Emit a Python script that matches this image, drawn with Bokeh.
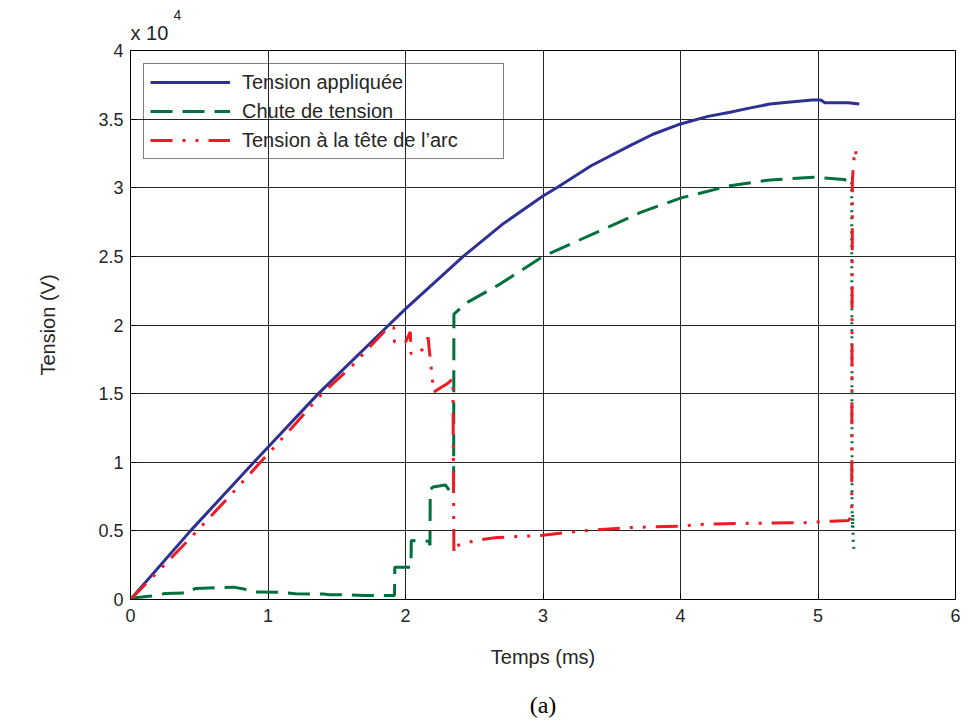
from bokeh.plotting import figure
from bokeh.models import Range1d, FixedTicker, Title, Legend, LegendItem, LinearAxis
from bokeh.embed import file_html
from bokeh.resources import INLINE

# ---- data (time in ms, voltage in V) ----
t_applied = [0, 0.436, 0.897, 1.366, 1.879, 2.0, 2.2, 2.42, 2.7, 3.0, 3.1, 3.35, 3.64, 3.8,
             4.0, 4.2, 4.36, 4.5, 4.65, 4.8, 4.96, 5.02, 5.05, 5.22, 5.3]
v_applied = [0, 5000, 10000, 15000, 20000, 21170, 23000, 25000, 27300, 29400, 30000, 31600,
             33100, 33900, 34650, 35200, 35500, 35800, 36100, 36250, 36400, 36400, 36200,
             36200, 36100]

t_drop = [0, 0.05, 0.15, 0.25, 0.42, 0.47, 0.63, 0.75, 0.86, 0.9, 1.1, 1.2, 1.4, 1.45, 1.6,
          1.7, 1.92, 1.922, 2.04, 2.042, 2.17, 2.178, 2.18, 2.2, 2.29, 2.33, 2.35, 2.352,
          2.45, 2.69, 3.0, 3.39, 3.71, 4.0, 4.36, 4.65, 4.97, 5.19, 5.245]
v_drop = [0, 150, 250, 430, 480, 800, 860, 900, 700, 550, 520, 420, 400, 350, 340,
          300, 300, 2350, 2350, 4300, 4250, 3950, 8000, 8200, 8350, 7800, 7800, 20800,
          21650, 23000, 25000, 26750, 28200, 29250, 30150, 30570, 30760, 30600, 30400]

t_drop_end = [5.245, 5.248, 5.25, 5.253, 5.256, 5.26, 5.265]
v_drop_end = [30400, 6500, 5200, 6200, 4300, 3800, 3400]

t_arc = [0, 0.25, 0.485, 0.75, 0.945, 1.2, 1.393, 1.6, 1.75, 1.88, 1.915, 1.92, 2.0, 2.035,
         2.04, 2.11, 2.165, 2.17, 2.19, 2.205, 2.25, 2.3, 2.345, 2.352, 2.36, 2.42, 2.5,
         2.65, 3.0, 3.15, 3.35, 3.65, 4.0, 4.2, 4.5, 4.9, 5.1, 5.22, 5.24, 5.245, 5.25,
         5.26, 5.272, 5.28]
v_arc = [0, 2550, 5000, 7850, 10000, 12800, 15000, 16900, 18500, 19900, 19800, 18750, 18750,
         19500, 17900, 18000, 19100, 18500, 16600, 15100, 15400, 15700, 16100, 3450, 3930,
         4000, 4300, 4500, 4680, 4850, 5050, 5250, 5350, 5500, 5550, 5600, 5700, 5750, 6000,
         6500, 30500, 32000, 32800, 32200]

x_ticks = [0, 1, 2, 3, 4, 5, 6]
y_ticks = [0, 5000, 10000, 15000, 20000, 25000, 30000, 35000, 40000]
y_tick_labels = ["0", "0.5", "1", "1.5", "2", "2.5", "3", "3.5", "4"]

names = ["Tension appliquée", "Chute de tension", "Tension à la tête de l\u2019arc"]

BLUE = "#2e3192"
GREEN = "#00703c"
RED = "#ed1c24"
TXT = "#262626"
FONT = "Liberation Sans"

p = figure(width=961, height=724, output_backend="svg", toolbar_location=None,
           x_range=Range1d(0, 6), y_range=Range1d(0, 40000), title="4")
p.min_border_left = 130
p.min_border_right = 6
p.min_border_top = 50
p.min_border_bottom = 125
p.background_fill_color = "white"
p.border_fill_color = "white"
p.outline_line_color = "black"
p.outline_line_width = 1

# outer title: exponent
p.title.align = "left"
p.title.offset = 43
p.title.text_font = FONT
p.title.text_font_size = "14px"
p.title.text_font_style = "normal"
p.title.text_color = TXT
p.title.standoff = -15

# inner title: multiplier
p.add_layout(Title(text="x 10", align="left", text_font=FONT, text_font_size="20px",
                   text_font_style="normal", text_color=TXT, standoff=14), "above")

for ax in (p.xaxis[0], p.yaxis[0]):
    ax.major_label_text_font = FONT
    ax.major_label_text_font_size = "18px"
    ax.major_label_text_color = TXT
    ax.axis_label_text_font = FONT
    ax.axis_label_text_font_size = "20px"
    ax.axis_label_text_font_style = "normal"
    ax.axis_label_text_color = TXT
    ax.major_tick_in = 6
    ax.major_tick_out = 0
    ax.minor_tick_line_color = None
    ax.axis_line_color = "black"
    ax.major_tick_line_color = "black"

p.xaxis.ticker = FixedTicker(ticks=x_ticks)
p.yaxis.ticker = FixedTicker(ticks=y_ticks)
p.yaxis.major_label_overrides = {k: v for k, v in zip(y_ticks, y_tick_labels)}
p.xaxis.axis_label = "Temps (ms)"
p.yaxis.axis_label = "Tension (V)"
p.xaxis.major_label_standoff = 9
p.xaxis.axis_label_standoff = 21
p.yaxis.major_label_standoff = 7
p.yaxis.axis_label_standoff = 36

# caption "(a)" as the label of an extra, tick-less axis below
cap_axis = LinearAxis(ticker=FixedTicker(ticks=[]), axis_label="(a)")
cap_axis.axis_line_color = None
cap_axis.major_tick_in = 0
cap_axis.major_tick_out = 0
cap_axis.minor_tick_in = 0
cap_axis.minor_tick_out = 0
cap_axis.major_label_standoff = 0
cap_axis.axis_label_standoff = 21
cap_axis.axis_label_text_font = "Liberation Serif"
cap_axis.axis_label_text_font_size = "24px"
cap_axis.axis_label_text_font_style = "normal"
cap_axis.axis_label_text_color = "black"
p.add_layout(cap_axis, "below")

p.xgrid.grid_line_color = "black"
p.ygrid.grid_line_color = "black"
p.xgrid.grid_line_alpha = 0.85
p.ygrid.grid_line_alpha = 0.85
p.xgrid.grid_line_width = 1
p.ygrid.grid_line_width = 1

r_app = p.line(t_applied, v_applied, line_color=BLUE, line_width=3)
r_drop = p.line(t_drop, v_drop, line_color=GREEN, line_width=3, line_dash="22 10")
p.line(t_drop_end, v_drop_end, line_color=GREEN, line_width=3, line_dash="2 5")
r_arc = p.line(t_arc, v_arc, line_color=RED, line_width=3, line_dash="22 10 3 10 3 10")

legend = Legend(items=[LegendItem(label=names[0], renderers=[r_app]),
                       LegendItem(label=names[1], renderers=[r_drop]),
                       LegendItem(label=names[2], renderers=[r_arc])],
                location="top_left")
legend.margin = 13
legend.padding = 6
legend.spacing = 5
legend.glyph_width = 80
legend.glyph_height = 24
legend.label_standoff = 12
legend.label_width = 255
legend.label_text_font = FONT
legend.label_text_font_size = "20px"
legend.label_text_color = TXT
legend.background_fill_alpha = 0
legend.border_line_color = "black"
legend.border_line_width = 1.5
p.add_layout(legend)

open("out.html", "w").write(file_html(p, INLINE))
